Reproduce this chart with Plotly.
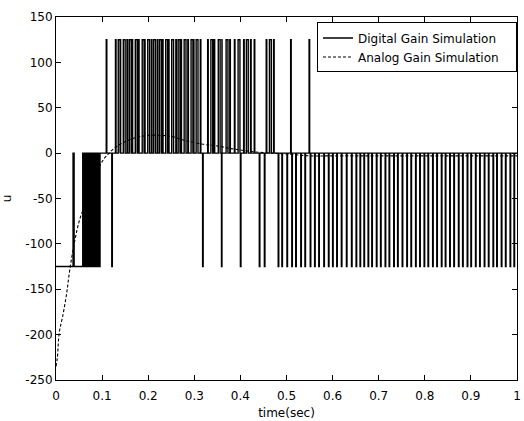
import plotly.graph_objects as go

# ---------------- data ----------------
# Digital gain simulation: three-level switching signal (-125 / 0 / +125)
low_level = -125
zero_level = 0
high_level = 125
t_base_to_zero = 0.086          # base level changes from -125 to 0 here

# pulses from -125 up to 0 during the first phase
early_up_times = [0.037, 0.0385, 0.058, 0.0595, 0.061, 0.0625, 0.064, 0.0655,
                  0.067, 0.0685, 0.070, 0.0715, 0.073, 0.0745, 0.076, 0.0775,
                  0.079, 0.0805, 0.082, 0.0835]
early_up_width = 0.0008

# pulses from 0 up to +125
up_times = [0.109, 0.129, 0.135, 0.139, 0.146, 0.154, 0.159, 0.165, 0.172, 0.179,
            0.187, 0.192, 0.199, 0.207, 0.212, 0.220, 0.225, 0.231, 0.238, 0.244,
            0.251, 0.260, 0.265, 0.271, 0.278, 0.286, 0.293, 0.298, 0.304, 0.313,
            0.329, 0.336, 0.343, 0.352, 0.360, 0.369, 0.377, 0.387, 0.395, 0.407,
            0.413, 0.422, 0.430, 0.456, 0.463, 0.472, 0.509, 0.549]
up_widths = [0.0012, 0.0012, 0.004, 0.0012, 0.004, 0.0012, 0.004, 0.0012, 0.004, 0.0012,
             0.004, 0.0012, 0.004, 0.0012, 0.004, 0.0012, 0.004, 0.0012, 0.004, 0.0012,
             0.004, 0.0012, 0.004, 0.0012, 0.004, 0.0012, 0.004, 0.0012, 0.004, 0.0012,
             0.0012, 0.004, 0.0012, 0.004, 0.0012, 0.004, 0.0012, 0.0012, 0.004, 0.0012,
             0.004, 0.0012, 0.0012, 0.0012, 0.004, 0.0012, 0.0012, 0.0012]

# pulses from 0 down to -125
down_times = [0.089, 0.0925, 0.121, 0.318, 0.359, 0.400, 0.441, 0.452,
              0.482, 0.490, 0.501, 0.5115, 0.520, 0.531, 0.540, 0.5515, 0.561, 0.570,
              0.581, 0.591, 0.600, 0.609, 0.619, 0.630, 0.641, 0.651, 0.6595, 0.668,
              0.677, 0.685, 0.695, 0.704, 0.714, 0.7226, 0.7326, 0.741, 0.751, 0.761,
              0.770, 0.780, 0.789, 0.7985, 0.807, 0.817, 0.826, 0.836, 0.8445, 0.854,
              0.863, 0.873, 0.882, 0.892, 0.900, 0.910, 0.919, 0.929, 0.938, 0.948,
              0.956, 0.966, 0.975, 0.985, 0.9935]
down_widths = [0.0008, 0.003] + [0.0012] * 61

t_end = 1.0

# Analog gain simulation (dashed curve)
analog_t = [0, 0.003, 0.007, 0.0144, 0.023, 0.030, 0.041, 0.052, 0.067, 0.080,
            0.096, 0.106, 0.115, 0.130, 0.150, 0.170, 0.200, 0.230, 0.250, 0.280,
            0.320, 0.350, 0.380, 0.420, 0.460, 0.500, 0.550, 0.600, 0.700, 0.800,
            0.900, 1.000]
analog_u = [-235, -225, -198, -180, -155, -128, -96, -72, -52, -32,
            -13, -5, 0, 7, 12.6, 16.7, 19.6, 19.5, 18.4, 14,
            9.7, 7.9, 5, 2, 0.2, -1, -3, -3, -3, -3,
            -3, -3]

x_ticks = [0, 0.1, 0.2, 0.3, 0.4, 0.5, 0.6, 0.7, 0.8, 0.9, 1]
x_tick_labels = ["0", "0.1", "0.2", "0.3", "0.4", "0.5", "0.6", "0.7", "0.8", "0.9", "1"]
y_ticks = [-250, -200, -150, -100, -50, 0, 50, 100, 150]
y_tick_labels = ["-250", "-200", "-150", "-100", "-50", "0", "50", "100", "150"]

# ---------------- build step signal (transitions) ----------------
events = []
for t in early_up_times:
    events.append((t, zero_level, 1))
    events.append((t + early_up_width, low_level, 0))
events.append((t_base_to_zero, zero_level, 0))
for t, w in zip(up_times, up_widths):
    events.append((t, high_level, 1))
    events.append((t + w, zero_level, 0))
for t, w in zip(down_times, down_widths):
    events.append((t, low_level, 1))
    events.append((t + w, zero_level, 0))
events.sort(key=lambda e: (e[0], e[2]))

dig_t = [0.0] + [e[0] for e in events] + [t_end]
dig_u = [low_level] + [e[1] for e in events] + [zero_level]

font_family = "DejaVu Sans"
pad = "\u00a0\u00a0\u00a0"

fig = go.Figure()
fig.add_trace(go.Scatter(
    x=dig_t, y=dig_u, mode="lines", line_shape="hv",
    line=dict(color="black", width=1.4),
    name="Digital Gain Simulation" + pad))
fig.add_trace(go.Scatter(
    x=analog_t, y=analog_u, mode="lines", line_shape="spline",
    line=dict(color="black", width=1.1, dash="3px,2px"),
    name="Analog Gain Simulation" + pad))

fig.update_layout(
    width=524, height=421,
    margin=dict(l=56, r=3, t=17, b=37),
    paper_bgcolor="white", plot_bgcolor="white",
    font=dict(family=font_family, size=12, color="black"),
    showlegend=True,
    legend=dict(x=1.0, y=0.985, xanchor="right", yanchor="top",
                bordercolor="black", borderwidth=1, bgcolor="white",
                font=dict(family=font_family, size=12, color="black"),
                itemwidth=30, tracegroupgap=0),
)
fig.update_xaxes(
    range=[0, 1], tickvals=x_ticks, ticktext=x_tick_labels,
    showline=True, linecolor="black", linewidth=1, mirror="allticks",
    ticks="inside", ticklen=5, tickcolor="black", showgrid=False, zeroline=False,
    ticklabeloverflow="allow", ticklabelstandoff=5,
    title=dict(text="time(sec)", standoff=6, font=dict(size=12)),
)
fig.update_yaxes(
    range=[-250, 150], tickvals=y_ticks, ticktext=y_tick_labels,
    showline=True, linecolor="black", linewidth=1, mirror="allticks",
    ticks="inside", ticklen=5, tickcolor="black", showgrid=False, zeroline=False,
    title=dict(text="u", standoff=12, font=dict(size=12)),
)

fig.write_html(
    "out.html",
    config={"displayModeBar": False},
    post_script="document.body.style.margin='0px';document.body.style.overflow='hidden';",
)
